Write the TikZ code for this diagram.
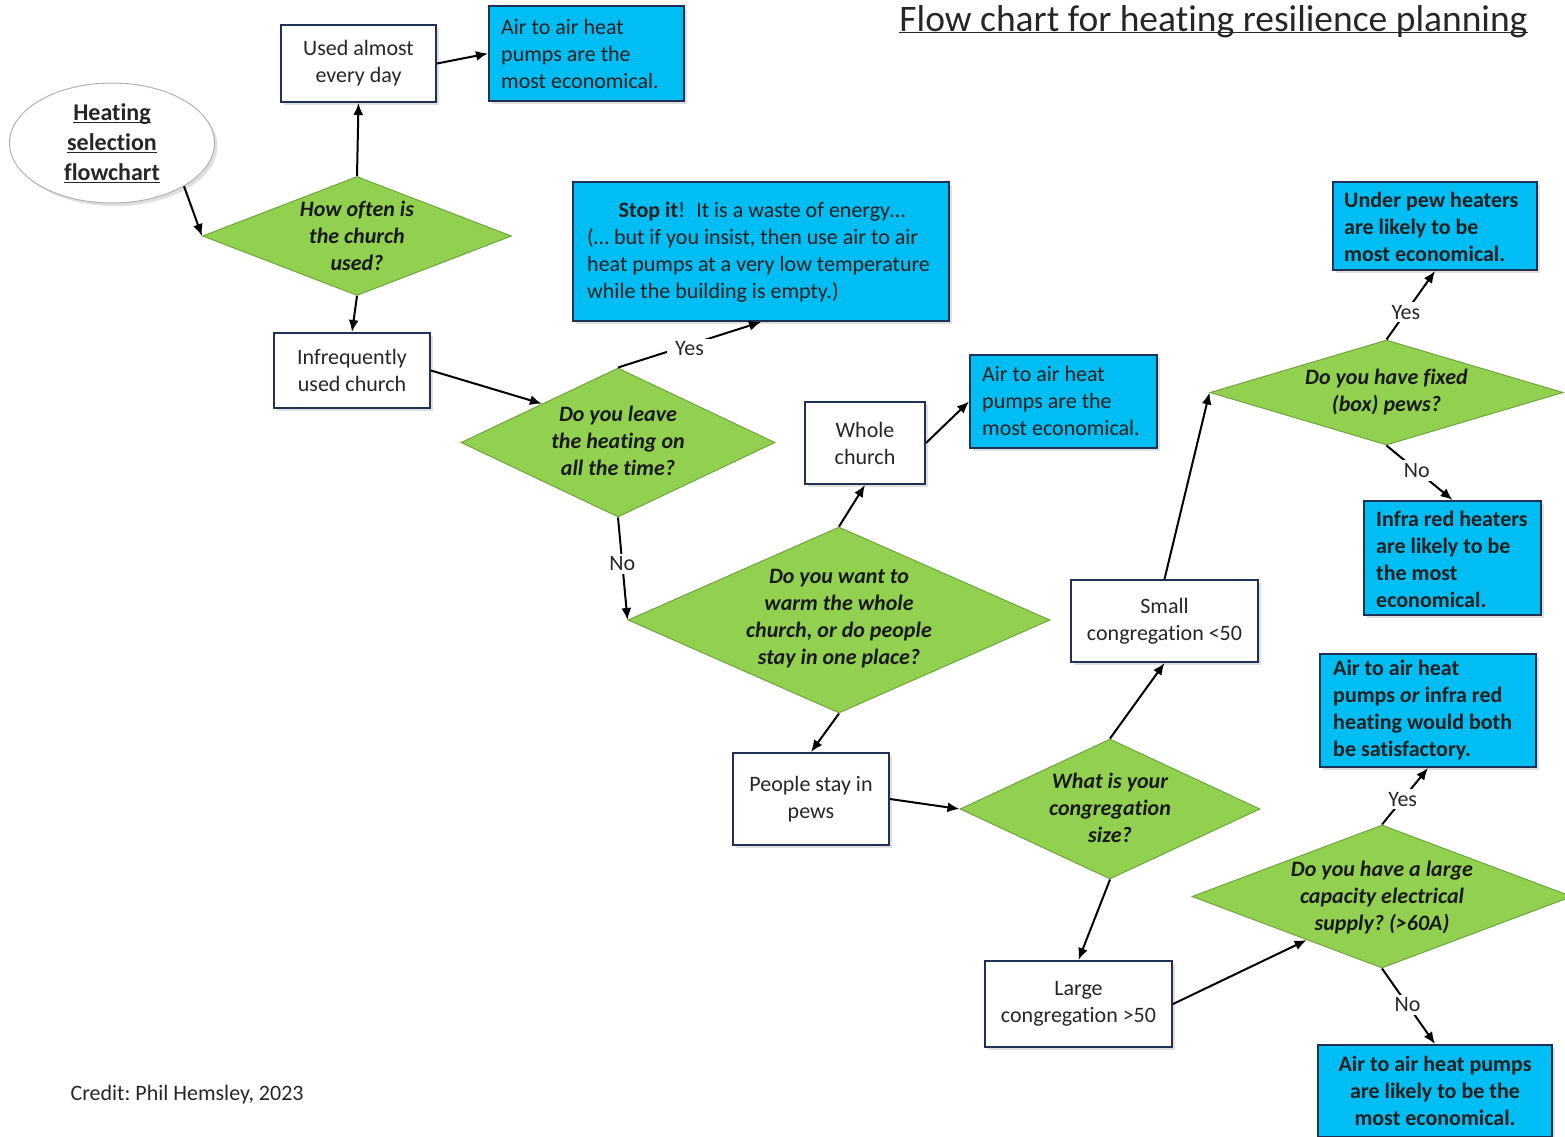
\documentclass[tikz,border=0pt]{standalone}
\usepackage{fontspec}
\setmainfont{Carlito}[Ligatures=NoCommon]
\usetikzlibrary{shapes.geometric,shadows,arrows.meta}
\newcommand\myul[1]{\underline{\smash{#1}}\vphantom{#1}}
\definecolor{bluebox}{RGB}{0,190,243}
\definecolor{navy}{RGB}{31,50,85}
\definecolor{greenfill}{RGB}{146,208,80}
\definecolor{greenline}{RGB}{112,165,62}
\definecolor{txt}{RGB}{38,38,38}
\frenchspacing
\begin{document}
\begin{tikzpicture}[x=1pt,y=-1pt,
  every node/.style={font=\fontsize{22}{27}\selectfont, text=txt},
  shadowed/.style={drop shadow={shadow xshift=3pt, shadow yshift=-3pt, opacity=0.25}},
  wbox/.style={rectangle, draw=navy, line width=2pt, fill=white, align=center, inner sep=0pt, shadowed},
  bbox/.style={rectangle, draw=navy, line width=2pt, fill=bluebox, inner sep=0pt, shadowed},
  btext/.style={align=left, inner sep=0pt, text=black!88},
  bbold/.style={btext, font=\fontsize{22}{27}\selectfont\bfseries},
  dia/.style={diamond, draw=greenline, line width=1pt, fill=greenfill, inner sep=0pt},
  diatext/.style={align=center, inner sep=0pt, font=\fontsize{22}{27}\selectfont\bfseries\itshape, text=black!90},
  ell/.style={ellipse, draw=gray!60, line width=1pt, fill=white, align=center, inner sep=0pt,
    font=\fontsize{24}{30}\selectfont\bfseries, text=black!85, shadowed},
  arr/.style={draw=black, line width=2pt, -{Latex[length=12pt,width=10pt]}},
  lab/.style={fill=white, inner sep=3pt, text=txt}
]
\useasboundingbox (0,0) rectangle (1565,1136);

% title and credit
\node[anchor=base, font=\fontsize{37.5}{44}\selectfont] (title) at (1213.5,31) {\myul{Flow chart for heating resilience planning}};
\node[anchor=base west] (credit) at (67,1100) {Credit: Phil Hemsley, 2023};

% start
\node[ell, minimum width=205pt, minimum height=120pt] (start) at (112,143) {\myul{Heating}\\\myul{selection}\\\myul{flowchart}};

% diamonds
\node[dia, minimum width=309pt, minimum height=119pt] (d2) at (357,236) {};
\node[diatext] (t2) at (357,236) {How often is\\the church\\used?};
\node[dia, minimum width=314pt, minimum height=149pt] (d6) at (618,442.5) {};
\node[diatext] (t6) at (618,441) {Do you leave\\the heating on\\all the time?};
\node[dia, minimum width=422pt, minimum height=186pt] (d10) at (839,620) {};
\node[diatext] (t10) at (839,619) {Do you want to\\warm the whole\\church, or do people\\stay in one place?};
\node[dia, minimum width=300pt, minimum height=140pt] (d14) at (1110,809) {};
\node[diatext] (t14) at (1110,808) {What is your\\congregation\\size?};
\node[dia, minimum width=353pt, minimum height=105pt] (d17) at (1386.5,392.5) {};
\node[diatext] (t17) at (1386.5,392) {Do you have fixed\\(box) pews?};
\node[dia, minimum width=380pt, minimum height=143pt] (d21) at (1382,896.5) {};
\node[diatext] (t21) at (1382,897) {Do you have a large\\capacity electrical\\supply? (>60A)};

% white boxes
\node[wbox, minimum width=155pt, minimum height=77pt] (b3) at (358.5,63.5) {Used almost\\every day};
\node[wbox, minimum width=156pt, minimum height=75pt] (b5) at (352,370.5) {Infrequently\\used church};
\node[wbox, minimum width=120pt, minimum height=82pt] (b11) at (865,443) {Whole\\church};
\node[wbox, minimum width=156pt, minimum height=92pt] (b13) at (811,799) {People stay in\\pews};
\node[wbox, minimum width=187pt, minimum height=82pt] (b15) at (1164.5,621) {Small\\congregation <50};
\node[wbox, minimum width=187pt, minimum height=86pt] (b16) at (1078.5,1004) {Large\\congregation >50};

% blue boxes
\node[bbox, minimum width=195pt, minimum height=95pt] (bl4) at (586.5,53.5) {};
\node[btext, anchor=west] (tb4) at (501,53.5) {Air to air heat\\pumps are the\\most economical.};
\node[bbox, minimum width=376pt, minimum height=139pt] (bl7) at (761,251.5) {};
\node[btext] (tb7a) at (762,212) {\textbf{Stop it}!\enspace It is a waste of energy…};
\node[btext, anchor=west] (tb7b) at (587,265.5) {(… but if you insist, then use air to air\\heat pumps at a very low temperature\\while the building is empty.)};
\node[bbox, minimum width=187pt, minimum height=93pt] (bl12) at (1063.5,401.5) {};
\node[btext, anchor=west] (tb12) at (982,401) {Air to air heat\\pumps are the\\most economical.};
\node[bbox, minimum width=204pt, minimum height=88pt] (bl18) at (1435,226) {};
\node[bbold, anchor=west] (tb18) at (1344,226.5) {Under pew heaters\\are likely to be\\most economical.};
\node[bbox, minimum width=177pt, minimum height=114pt] (bl19) at (1452.5,558) {};
\node[bbold, anchor=west] (tb19) at (1376,559) {Infra red heaters\\are likely to be\\the most\\economical.};
\node[bbox, minimum width=216pt, minimum height=113pt] (bl22) at (1428,710.5) {};
\node[bbold, anchor=west] (tb22) at (1333,710) {Air to air heat\\pumps \textit{or} infra red\\heating would both\\be satisfactory.};
\node[bbox, minimum width=234pt, minimum height=92pt] (bl23) at (1435,1091) {};
\node[bbold, align=center] (tb23) at (1435,1091) {Air to air heat pumps\\are likely to be the\\most economical.};

% connectors
\draw[arr] (start.-31) -- (d2.west);
\draw[arr] (d2.north) -- (b3.south);
\draw[arr] (b3.east) -- (bl4.west);
\draw[arr] (d2.south) -- (b5.north);
\draw[arr] (b5.east) -- (d6.153);
\draw[arr] (d6.north) -- node[lab, yshift=-4pt, inner xsep=8pt] {Yes} (bl7.south);
\draw[arr] (d6.south) -- node[lab, pos=0.45] {No} (d10.west);
\draw[arr] (d10.north) -- (b11.south);
\draw[arr] (b11.east) -- (bl12.west);
\draw[arr] (d10.south) -- (b13.north);
\draw[arr] (b13.east) -- (d14.west);
\draw[arr] (d14.north) -- (b15.south);
\draw[arr] (d14.south) -- (b16.north);
\draw[arr] (b15.north) -- (d17.west);
\draw[arr] (d17.north) -- node[lab, pos=0.4] {Yes} (bl18.south);
\draw[arr] (d17.south) -- node[lab, pos=0.46] {No} (bl19.north);
\draw[arr] (b16.east) -- (d21.210);
\draw[arr] (d21.north) -- node[lab, pos=0.45] {Yes} (bl22.south);
\draw[arr] (d21.south) -- node[lab, pos=0.48] {No} (bl23.north);
\end{tikzpicture}
\end{document}
